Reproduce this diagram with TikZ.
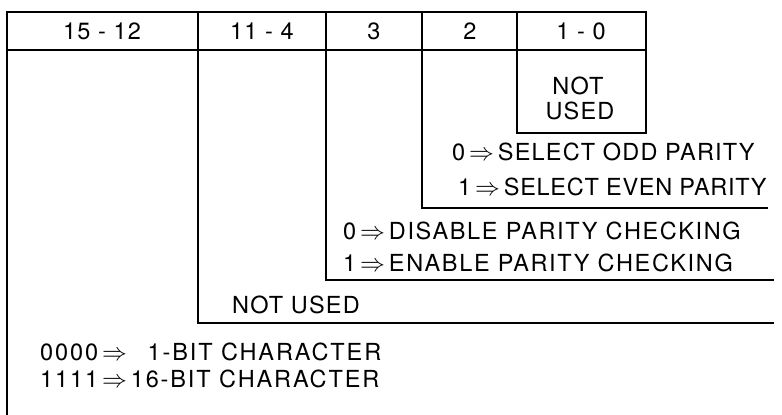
\documentclass[tikz,border=0pt]{standalone}
\usepackage{fontspec}
\setmainfont{TeX Gyre Heros}[LetterSpace=5]
\tikzset{
  rule/.style={line width=1.4pt, line cap=rect},
  hdr/.style={font=\fontsize{23.5}{26}\selectfont, inner sep=0pt},
  lbl/.style={font=\fontsize{23.5}{26}\selectfont, inner sep=0pt, anchor=west},
  sp/.style={font=\fontsize{23.5}{26}\selectfont\addfontfeature{LetterSpace=#1}},
}
\newcommand{\imp}{\,$\Rightarrow$\,}
\begin{document}
\begin{tikzpicture}[x=1pt,y=-1pt]
\useasboundingbox (0,0) rectangle (782,415);
% header row
\draw[rule] (7,12) rectangle (646,50);
\foreach \x in {198,326,422,517} \draw[rule] (\x,12) -- (\x,50);
\node[hdr] (h1) at (102,31) {15 - 12};
\node[hdr] (h2) at (262,31) {11 - 4};
\node[hdr] (h3) at (374,31) {3};
\node[hdr] (h4) at (470,31) {2};
\node[hdr] (h5) at (581,31) {1 - 0};
% bits 1-0
\draw[rule] (517,50) -- (517,133) -- (646,133) -- (646,50);
\node[hdr] (nu1) at (578,86) {NOT};
\node[hdr] (nu2) at (580,111) {USED};
% bit 2
\draw[rule] (422,50) -- (422,208) -- (767,208);
\node[lbl] (b2a) at (452,152) {0\imp SELECT ODD PARITY};
\node[lbl, sp=3] (b2b) at (458,187) {1\imp SELECT EVEN PARITY};
% bit 3
\draw[rule] (326,50) -- (326,280) -- (773,280);
\node[lbl, sp=7] (b3a) at (343,231) {0\imp DISABLE PARITY CHECKING};
\node[lbl, sp=7] (b3b) at (343,263) {1\imp ENABLE PARITY CHECKING};
% bits 11-4
\draw[rule] (198,50) -- (198,323) -- (773,323);
\node[lbl] (b4) at (232,305) {NOT USED};
% bits 15-12
\draw[rule] (7,50) -- (7,415);
\node[lbl, sp=8] (b15a) at (40,352) {0000\imp\ \ 1-BIT CHARACTER};
\node[lbl, sp=8] (b15b) at (40,379) {1111\imp 16-BIT CHARACTER};
\end{tikzpicture}
\end{document}
